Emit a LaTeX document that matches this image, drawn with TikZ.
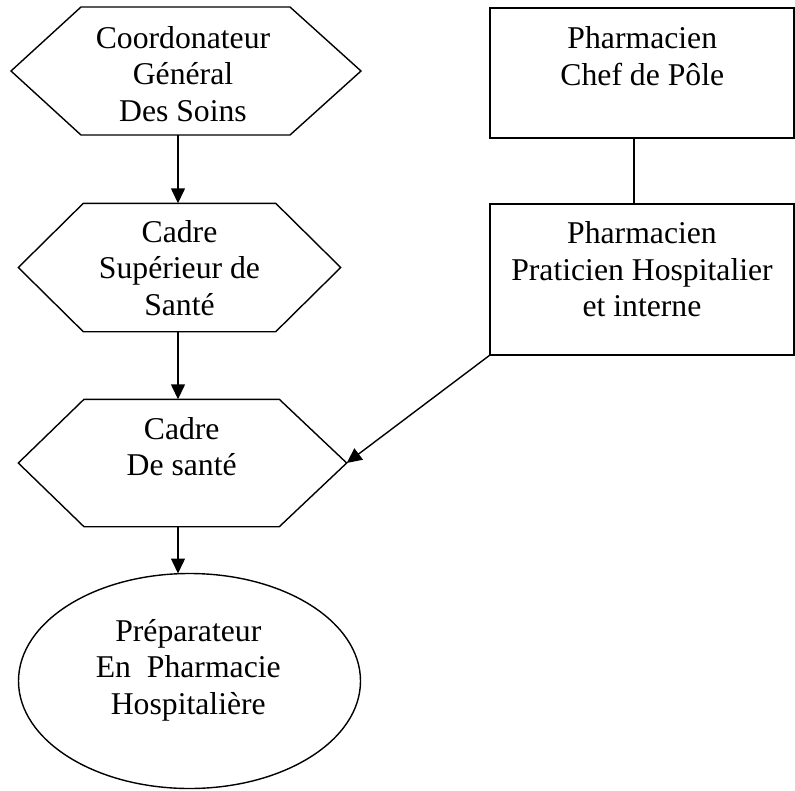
\documentclass[tikz,border=0pt]{standalone}
\usepackage{fontspec}
\setmainfont{Liberation Serif}
\usetikzlibrary{arrows.meta,shapes.geometric,calc}
\begin{document}
\begin{tikzpicture}[x=1pt,y=-1pt,
  line width=1.4pt,
  frame/.style={draw=none,inner sep=0pt,outer sep=0pt},
  boxnode/.style={draw,inner sep=0pt,outer sep=0pt},
  lbl/.style={align=center,inner sep=0pt,font=\fontsize{31.7}{36.5}\selectfont},
  arr/.style={-{Triangle[length=15pt,width=14pt]}},
]
\useasboundingbox (0,0) rectangle (795,790);
% columns for vertical connectors
\coordinate (col) at (178,0);
\coordinate (col2) at (634,0);
% hexagon frames
\node[frame,minimum width=350pt,minimum height=128pt] (hx1) at (186,71) {};
\node[frame,minimum width=322.4pt,minimum height=128.4pt] (hx2) at (179.5,267.5) {};
\node[frame,minimum width=328.4pt,minimum height=127.4pt] (hx3) at (182.5,463) {};
\foreach \h/\l/\r in {hx1/70/71, hx2/65/65, hx3/65.7/67.4}{
  \draw (\h.west) -- ([xshift=\l pt]\h.north west) -- ([xshift=-\r pt]\h.north east)
        -- (\h.east) -- ([xshift=-\r pt]\h.south east) -- ([xshift=\l pt]\h.south west) -- cycle;
}
% ellipse
\node[ellipse,draw,inner sep=0pt,outer sep=0pt,minimum width=342pt,minimum height=215pt] (el) at (189.5,681) {};
% right boxes
\node[boxnode,minimum width=304pt,minimum height=130pt] (b1) at (642,73) {};
\node[boxnode,minimum width=304pt,minimum height=151pt] (b2) at (642,279.5) {};
% labels
\node[lbl] (t1) at (183,77.3) {\strut Coordonateur\\\strut Général\\\strut Des Soins};
\node[lbl] (t2) at (179.5,271.5) {\strut Cadre\\\strut Supérieur de\\\strut Santé};
\node[lbl] (t3) at (181.7,450.1) {\strut Cadre\\\strut De santé};
\node[lbl] (t4) at (188.3,670.5) {\strut Préparateur\\\strut En\ \ Pharmacie\\\strut Hospitalière};
\node[lbl] (t5) at (642.3,59.8) {\strut Pharmacien\\\strut Chef de Pôle};
\node[lbl] (t6) at (642,273.1) {\strut Pharmacien\\\strut Praticien Hospitalier\\\strut et interne};
% connectors
\draw[arr] (hx1.south -| col) -- (hx2.north -| col);
\draw[arr] (hx2.south -| col) -- (hx3.north -| col);
\draw[arr] (hx3.south -| col) -- (el.north -| col);
\draw (b1.south -| col2) -- (b2.north -| col2);
\draw[arr] (b2.south west) -- (hx3.east);
\end{tikzpicture}
\end{document}
